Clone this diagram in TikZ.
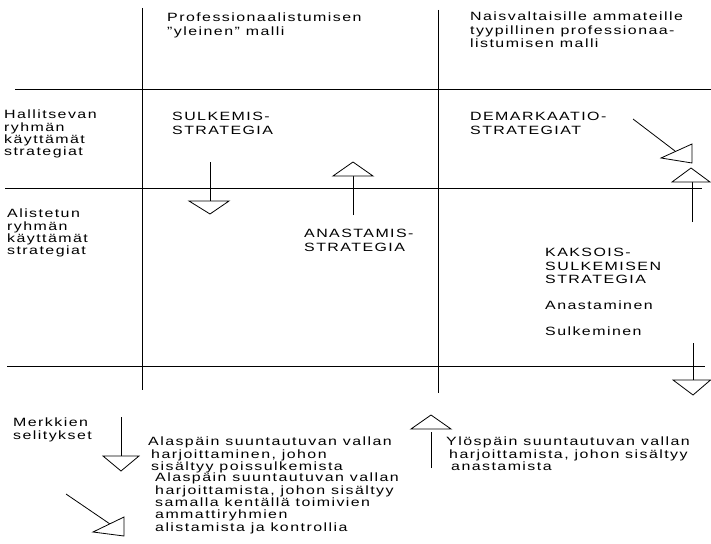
\documentclass[tikz,border=0pt]{standalone}
\usepackage{fontspec}
\setmainfont[FakeStretch=1.33,LetterSpace=12]{Liberation Sans}
\begin{document}
\begin{tikzpicture}[x=1pt,y=-1pt,
  rule/.style={line width=0.9pt,black},
  sym/.style={line width=0.8pt,black},
  tri/.style={line width=0.8pt,black,fill=white,line join=miter},
  lbl/.style={anchor=north west,inner sep=0pt,align=left,font=\fontsize{12}{13.5}\selectfont},
  lblL/.style={lbl,font=\fontsize{12}{12.3}\selectfont}]
\useasboundingbox (0,0) rectangle (711,543);
\fill[white] (0,0) rectangle (711,543);
% grid lines
\coordinate (v1t) at (142,8);   \coordinate (v1b) at (142,390);
\coordinate (v2t) at (438,10);  \coordinate (v2b) at (438,393);
\coordinate (h1l) at (15,89);   \coordinate (h1r) at (711,89);
\coordinate (h2l) at (5,188);   \coordinate (h2r) at (702,188);
\coordinate (h3l) at (7,366);   \coordinate (h3r) at (705,366);
\draw[rule] (v1t) -- (v1b);
\draw[rule] (v2t) -- (v2b);
\draw[rule] (h1l) -- (h1r);
\draw[rule] (h2l) -- (h2r);
\draw[rule] (h3l) -- (h3r);
% texts
\node[lbl] (t1) at (167,13) {Professionaalistumisen\\"yleinen" malli};
\node[lbl] (t2) at (470,12) {Naisvaltaisille ammateille\\tyypillinen professionaa-\\listumisen malli};
\node[lblL] (t3) at (4,110) {Hallitsevan\\ryhmän\\käyttämät\\strategiat};
\node[lbl] (t4) at (172,112) {SULKEMIS-\\STRATEGIA};
\node[lbl] (t5) at (470,112) {DEMARKAATIO-\\STRATEGIAT};
\node[lblL] (t6) at (7,209) {Alistetun\\ryhmän\\käyttämät\\strategiat};
\node[lbl] (t7) at (304,229) {ANASTAMIS-\\STRATEGIA};
\node[lbl] (t8) at (545,248) {KAKSOIS-\\SULKEMISEN\\STRATEGIA};
\node[lbl] (t9) at (545,301) {Anastaminen};
\node[lbl] (t10) at (545,327) {Sulkeminen};
\node[lblL] (t11) at (13,418) {Merkkien\\selitykset};
\node[lblL] (t12) at (148,437) {Alaspäin suuntautuvan vallan\\\hspace*{3pt}harjoittaminen, johon\\\hspace*{3pt}sisältyy poissulkemista};
\node[lblL] (t13) at (446,437) {Ylöspäin suuntautuvan vallan\\\hspace*{3pt}harjoittamista, johon sisältyy\\\hspace*{5pt}anastamista};
\node[lblL] (t14) at (155,473) {Alaspäin suuntautuvan vallan\\harjoittamista, johon sisältyy\\samalla kentällä toimivien\\ammattiryhmien\\alistamista ja kontrollia};
% symbol: sulkemis (down)
\coordinate (a1s) at (210,162); \coordinate (a1e) at (210,201);
\draw[sym] (a1s) -- (a1e);
\draw[tri] (189,201) -- (229,201) -- (210,214) -- cycle;
% symbol: anastamis (up)
\coordinate (a2s) at (353,215); \coordinate (a2e) at (353,176);
\draw[sym] (a2s) -- (a2e);
\draw[tri] (333,176) -- (373,176) -- (353,162) -- cycle;
% symbol: demarkaatio (diagonal)
\coordinate (a3s) at (633,119); \coordinate (a3e) at (675,151);
\draw[sym] (a3s) -- (a3e);
\draw[tri] (692,144) -- (692,163) -- (661,158) -- cycle;
% right up
\coordinate (a4s) at (692,222); \coordinate (a4e) at (692,182);
\draw[sym] (a4s) -- (a4e);
\draw[tri] (672,182) -- (710,182) -- (691,168) -- cycle;
% right down
\coordinate (a5s) at (693,343); \coordinate (a5e) at (693,380);
\draw[sym] (a5s) -- (a5e);
\draw[tri] (673,380) -- (710.5,380) -- (693,395) -- cycle;
% legend down
\coordinate (l1s) at (121,417); \coordinate (l1e) at (121,456);
\draw[sym] (l1s) -- (l1e);
\draw[tri] (103,456) -- (139,456) -- (121,471) -- cycle;
% legend up
\coordinate (l2s) at (431,468); \coordinate (l2e) at (431,432);
\draw[sym] (l2s) -- (l2e);
\draw[tri] (411,429) -- (451,429) -- (431,415) -- cycle;
% legend diagonal
\coordinate (l3s) at (66,494); \coordinate (l3e) at (110,524);
\draw[sym] (l3s) -- (l3e);
\draw[tri] (124,517) -- (124,536) -- (93,532) -- cycle;
\end{tikzpicture}
\end{document}
